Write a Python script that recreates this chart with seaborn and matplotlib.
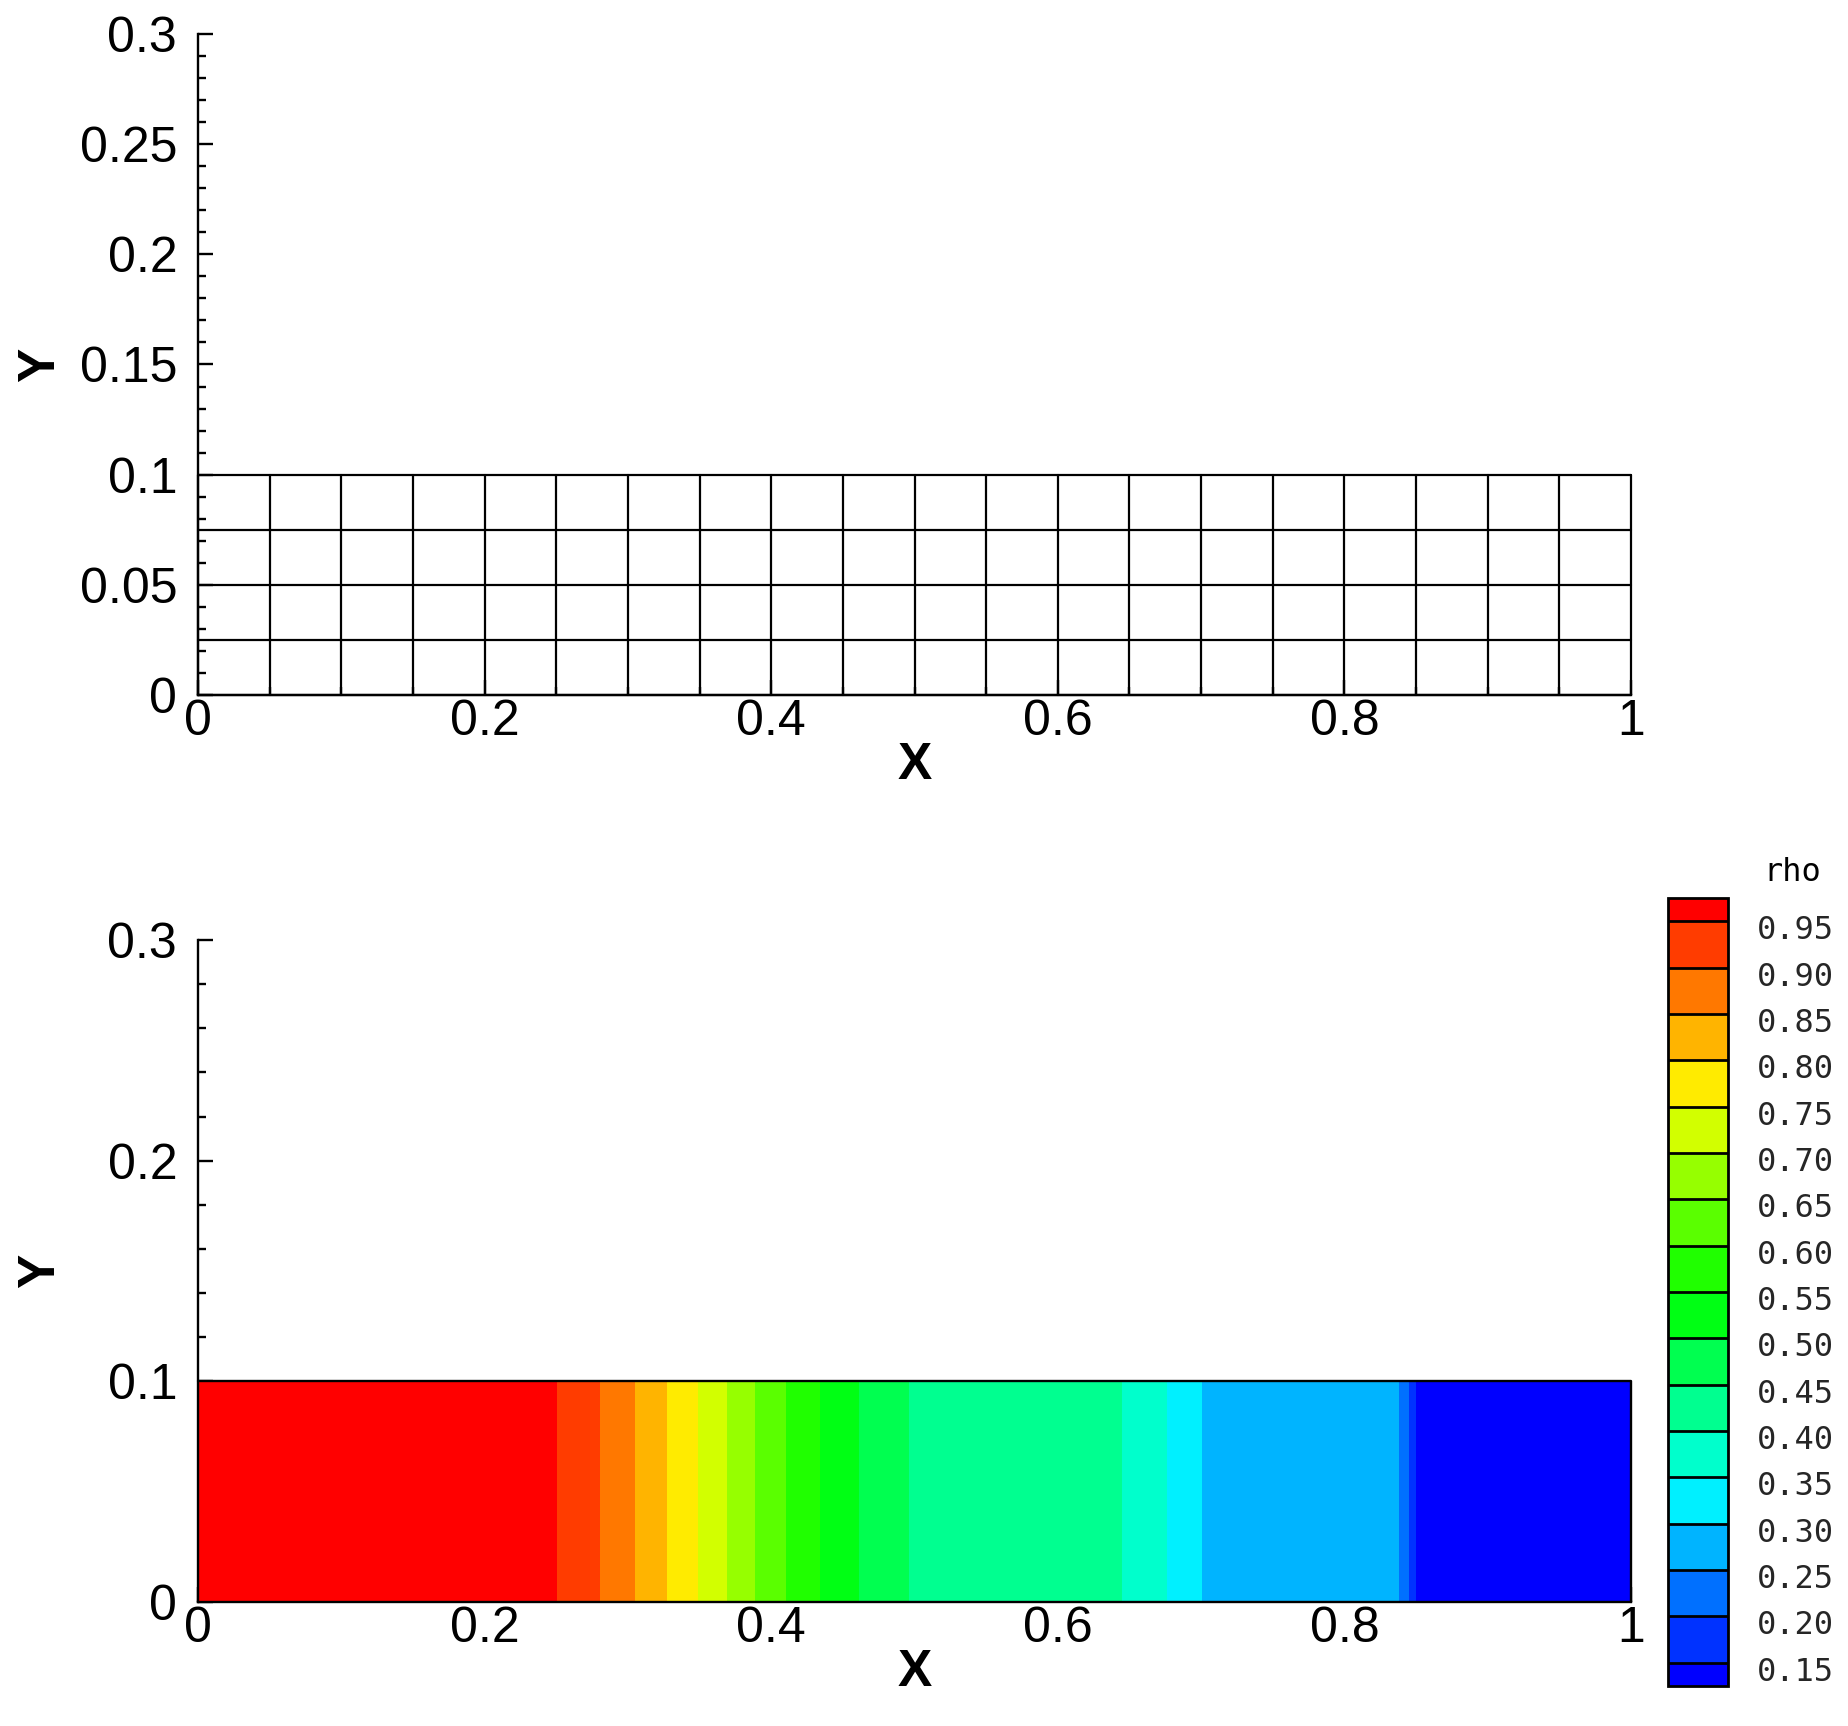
import numpy as np
import matplotlib
matplotlib.use('Agg')
import matplotlib.pyplot as plt
from matplotlib.colors import ListedColormap
from matplotlib.ticker import MultipleLocator, FuncFormatter
from matplotlib.transforms import ScaledTranslation
import seaborn as sns

# malha (top panel): nodes of the 20 x 4 grid
mesh_x = [0.0, 0.05, 0.1, 0.15, 0.2, 0.25, 0.3, 0.35, 0.4, 0.45, 0.5,
          0.55, 0.6, 0.65, 0.7, 0.75, 0.8, 0.85, 0.9, 0.95, 1.0]
mesh_y = [0.0, 0.025, 0.05, 0.075, 0.1]

# density profile along x (same for every y)
rho_x = [0.0, 0.24, 0.2507, 0.2805, 0.3049, 0.3276, 0.349, 0.3695, 0.3888,
         0.4103, 0.4342, 0.4615, 0.4964, 0.51, 0.63, 0.6447, 0.6761, 0.7003,
         0.715, 0.825, 0.8382, 0.845, 0.8497, 0.86, 1.0]
rho = [1.0, 1.0, 0.95, 0.90, 0.85, 0.80, 0.75, 0.70, 0.65,
       0.60, 0.55, 0.50, 0.45, 0.426, 0.426, 0.40, 0.35, 0.30,
       0.266, 0.266, 0.25, 0.20, 0.15, 0.125, 0.125]

rho_levels = [0.15, 0.20, 0.25, 0.30, 0.35, 0.40, 0.45, 0.50, 0.55,
              0.60, 0.65, 0.70, 0.75, 0.80, 0.85, 0.90, 0.95]
band_colors = ['#0032FF', '#0070FF', '#00B4FF', '#00F0FF', '#00FFCC', '#00FF90',
               '#00FF50', '#00FF14', '#20FF00', '#5AFF00', '#96FF00', '#D2FF00',
               '#FFEB00', '#FFB400', '#FF7800', '#FF3C00']
under_color = '#0000FF'
over_color = '#FF0000'

sns.set_style('white')
plt.rcParams['font.family'] = ['Liberation Sans', 'DejaVu Sans']
plt.rcParams['text.color'] = 'black'
plt.rcParams['axes.labelcolor'] = 'black'

W, H = 1848, 1726
fig = plt.figure(figsize=(W / 100, H / 100), dpi=100)

def px_axes(l, t, r, b):
    return fig.add_axes([l / W, 1 - b / H, (r - l) / W, (b - t) / H])

ax1 = px_axes(198, 34, 1631, 695)
ax2 = px_axes(198, 940, 1631, 1602)
cax = px_axes(1668, 898, 1728, 1686)

fmt = FuncFormatter(lambda v, p: '%g' % round(v, 4))

def estilo(ax, ymaj, ymin):
    ax.set_xlim(0, 1)
    ax.set_ylim(0, 0.3)
    for s in ['top', 'right']:
        ax.spines[s].set_visible(False)
    for s in ['left', 'bottom']:
        ax.spines[s].set_linewidth(1.7)
        ax.spines[s].set_color('black')
    ax.xaxis.set_major_locator(MultipleLocator(0.2))
    ax.xaxis.set_minor_locator(MultipleLocator(0.05))
    ax.yaxis.set_major_locator(MultipleLocator(ymaj))
    ax.yaxis.set_minor_locator(MultipleLocator(ymin))
    ax.xaxis.set_major_formatter(fmt)
    ax.yaxis.set_major_formatter(fmt)
    ax.tick_params(which='both', direction='in', left=True, bottom=True,
                   top=False, right=False, width=1.7, color='black',
                   labelsize=36, labelcolor='black')
    ax.tick_params(which='major', length=11)
    ax.tick_params(which='minor', length=6)
    ax.tick_params(axis='y', pad=15)
    ax.tick_params(axis='x', pad=3)
    ax.set_xlabel('X', fontsize=37, fontweight='bold', va='center', color='black')
    ax.set_ylabel('Y', fontsize=37, fontweight='bold', va='center', color='black')
    ax.xaxis.set_label_coords(0.5, -0.107)
    ax.yaxis.set_label_coords(-0.1096, 0.5)
    ax.set_facecolor('white')

estilo(ax1, 0.05, 0.01)
estilo(ax2, 0.1, 0.02)

# top: computational mesh
MX, MY = np.meshgrid(mesh_x, mesh_y)
ax1.plot(MX, MY, color='black', lw=1.6, clip_on=False)
ax1.plot(MX.T, MY.T, color='black', lw=1.6, clip_on=False)

# bottom: rho contour
cmap = ListedColormap(band_colors)
cmap.set_under(under_color)
cmap.set_over(over_color)
CX, CY = np.meshgrid(rho_x, [mesh_y[0], mesh_y[-1]])
CZ = np.tile(rho, (2, 1))
cs = ax2.contourf(CX, CY, CZ, levels=rho_levels, cmap=cmap, extend='both',
                  antialiased=False)
ax2.plot([mesh_x[0], mesh_x[-1], mesh_x[-1]], [mesh_y[-1], mesh_y[-1], mesh_y[0]],
         color='black', lw=1.7, clip_on=False)

cb = fig.colorbar(cs, cax=cax, extend='both', extendrect=True, extendfrac=1 / 32,
                  drawedges=True, ticks=rho_levels, format='%.2f')
cb.outline.set_linewidth(2)
cb.outline.set_edgecolor('black')
cb.dividers.set_color('black')
cb.dividers.set_linewidth(2)
cax.tick_params(length=0, pad=21, labelsize=23)
fig.canvas.draw()
for lbl in cax.get_yticklabels():
    lbl.set_family('DejaVu Sans Mono')
    lbl.set_transform(lbl.get_transform() + ScaledTranslation(0, -0.06, fig.dpi_scale_trans))
fig.text(1792 / W, 1 - 872 / H, 'rho', fontsize=23, family='DejaVu Sans Mono',
         ha='center', va='center')

plt.savefig('out.png', dpi=100, facecolor='white')
